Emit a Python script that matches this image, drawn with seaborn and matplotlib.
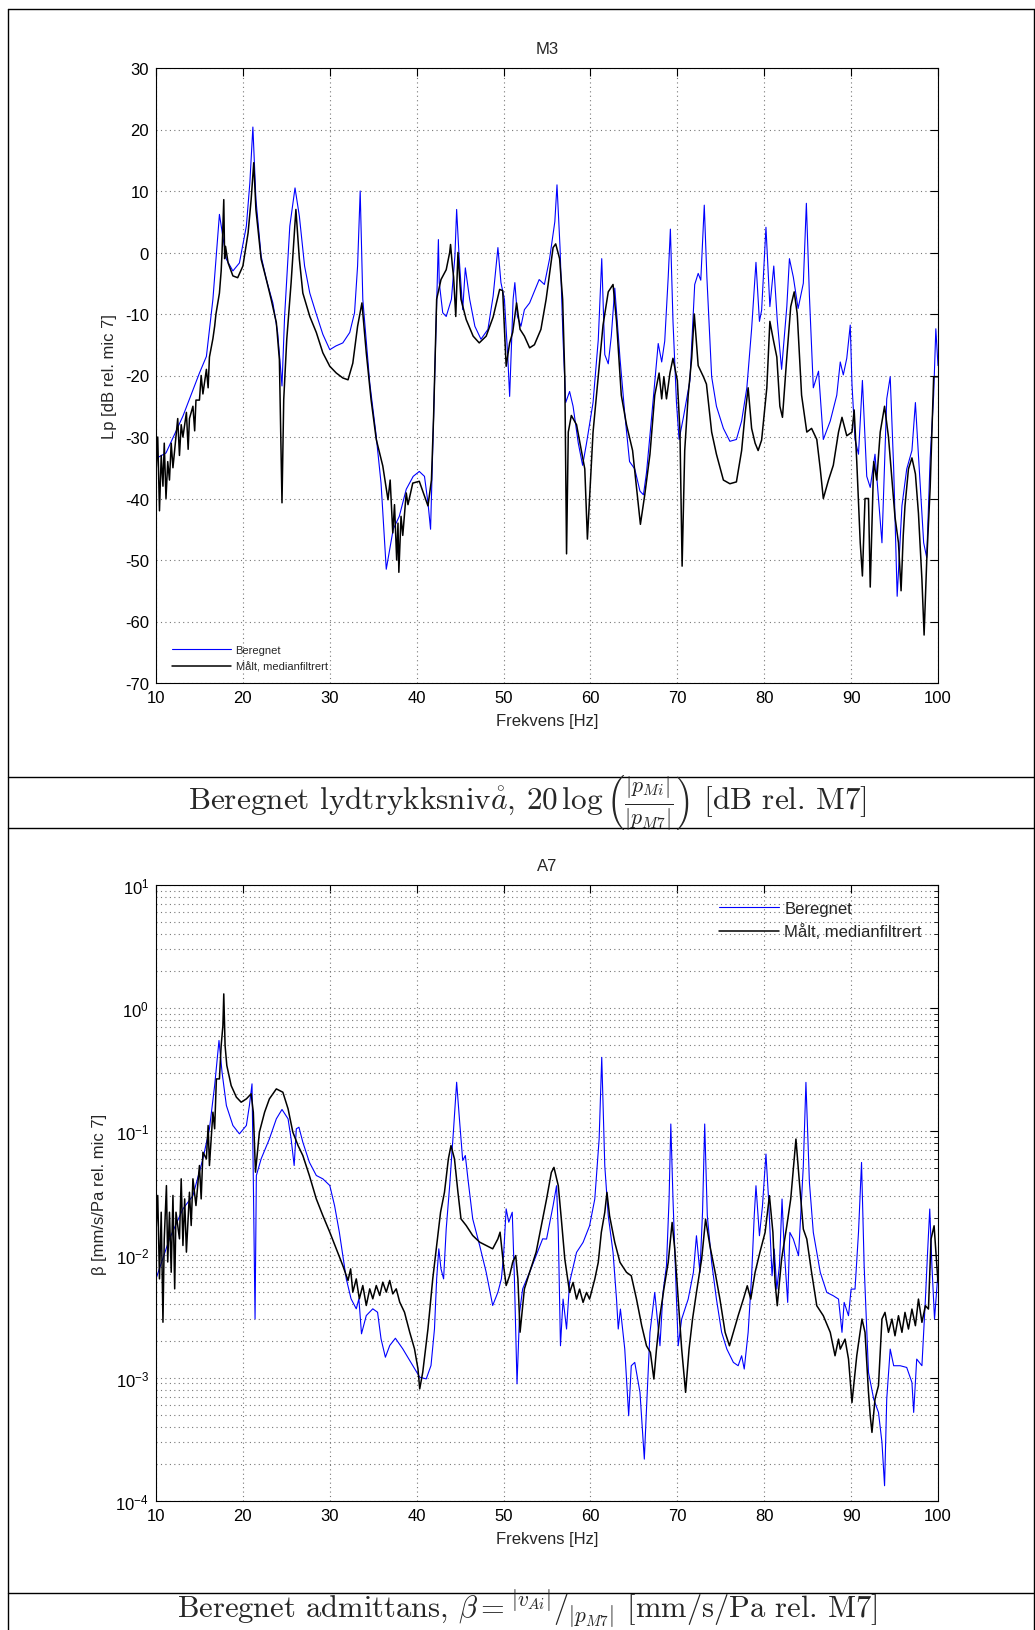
# ===============================================
# M3 / A7 – beregnet vs målt (MATLAB-style figure)
# ===============================================

import numpy as np
import matplotlib
matplotlib.use("Agg")
import matplotlib.pyplot as plt
import seaborn as sns
from matplotlib.lines import Line2D

# ------------------ Data: M3, Lp [dB rel. mic 7] ------------------

m3_ber_f = [10.0, 11.15, 13.1, 15.0, 15.8, 16.55, 16.93, 17.3, 18.1, 18.85, 19.6, 20.4, 20.8, 21.15, 21.5,
            22.1, 22.7, 23.45, 24.0, 24.5, 24.8, 25.4, 26.0, 26.5, 27.1, 27.7, 28.4, 29.2, 30.0, 30.7,
            31.5, 32.3, 32.85, 33.2, 33.5, 33.8, 34.6, 35.3, 35.9, 36.5, 37.3, 38.0, 38.8, 39.6, 40.3,
            40.9, 41.3, 41.6, 41.9, 42.25, 42.5, 42.6, 43.0, 43.4, 44.0, 44.4, 44.6, 44.9, 45.3, 45.6,
            46.1, 46.7, 47.4, 48.2, 48.8, 49.35, 49.7, 50.1, 50.5, 50.7, 51.1, 51.3, 51.6, 52.0, 52.4,
            53.0, 54.1, 54.7, 55.3, 55.9, 56.15, 56.5, 56.85, 57.15, 57.6, 58.0, 58.6, 59.1, 59.55, 60.3,
            60.9, 61.3, 61.65, 62.05, 62.4, 62.8, 63.4, 63.95, 64.5, 65.1, 65.7, 66.1, 66.45, 67.0, 67.8,
            68.2, 68.55, 68.95, 69.2, 69.5, 69.9, 70.2, 70.7, 71.45, 72.0, 72.4, 72.7, 73.1, 73.4, 73.95,
            74.5, 75.3, 76.05, 76.8, 77.4, 78.0, 78.55, 79.05, 79.45, 79.7, 80.2, 80.65, 81.1, 81.5, 82.0,
            82.6, 82.9, 83.35, 83.9, 84.5, 84.85, 85.2, 85.65, 86.25, 86.8, 87.6, 88.35, 88.75, 89.1, 89.5,
            89.9, 90.1, 90.45, 90.85, 91.3, 91.8, 92.2, 92.75, 93.55, 94.1, 94.5, 94.9, 95.3, 95.85, 96.4,
            97.0, 97.4, 97.75, 98.35, 98.7, 99.1, 99.5, 99.75, 100.0]
m3_ber_db = [-33.5, -32.6, -26.6, -19.6, -16.9, -7.6, -0.6, 6.2, -1.1, -3.0, -1.7, 4.3, 11.3, 20.4, 8.6,
             -0.6, -4.4, -8.2, -13.0, -21.7, -10.4, 4.3, 10.5, 5.9, -2.2, -6.6, -9.8, -13.3, -15.8, -15.2,
             -14.7, -13.0, -9.8, -2.2, 10.0, -7.6, -21.2, -29.3, -37.5, -51.5, -45.0, -42.9, -38.5, -36.4, -35.6,
             -36.4, -40.7, -45.0, -29.3, -10.4, 2.1, -4.9, -9.8, -10.4, -7.6, -0.6, 7.0, -1.1, -9.3, -2.5,
             -7.6, -12.0, -14.1, -12.5, -7.1, 0.8, -4.9, -7.6, -17.4, -23.4, -7.6, -4.9, -10.4, -12.0, -9.3,
             -8.2, -4.4, -5.2, -1.0, 5.0, 11.0, 0.8, -14.2, -24.4, -22.6, -25.0, -31.0, -34.6, -31.0, -24.4,
             -14.2, -1.0, -16.6, -18.1, -13.6, -5.8, -17.2, -26.2, -34.0, -35.2, -38.8, -39.4, -35.8, -27.4, -14.8,
             -17.8, -14.4, -4.0, 3.8, -11.2, -24.4, -30.4, -26.8, -20.8, -5.2, -3.4, -4.5, 7.7, -4.0, -20.2,
             -25.0, -28.6, -30.7, -30.4, -27.4, -22.0, -12.4, -1.6, -11.2, -9.4, 4.1, -8.8, -2.2, -11.0, -19.0,
             -8.8, -1.0, -4.0, -9.1, -5.0, 8.0, -7.0, -22.0, -19.3, -30.4, -27.4, -23.2, -17.8, -19.9, -17.2,
             -11.8, -21.4, -30.4, -32.8, -20.8, -36.4, -38.2, -32.8, -47.2, -23.8, -20.2, -35.2, -55.9, -41.2, -35.2,
             -32.2, -24.4, -33.0, -47.2, -49.6, -33.4, -23.2, -12.4, -18.4]

m3_mal_f = [10.0, 10.2, 10.4, 10.6, 10.8, 10.95, 11.15, 11.35, 11.55, 11.75, 11.95, 12.3, 12.5, 12.7, 12.9,
            13.1, 13.5, 13.7, 13.85, 14.25, 14.45, 14.6, 15.0, 15.2, 15.4, 15.8, 16.0, 16.15, 16.55, 16.75,
            16.9, 17.3, 17.5, 17.6, 17.8, 17.9, 18.0, 18.3, 18.85, 19.4, 20.0, 20.6, 20.95, 21.25, 21.5,
            22.1, 22.7, 23.25, 23.85, 24.2, 24.5, 24.7, 25.05, 25.55, 26.1, 26.5, 26.9, 27.7, 28.45, 29.2,
            30.0, 30.75, 31.5, 32.1, 32.65, 33.2, 33.7, 34.2, 34.75, 35.35, 36.1, 36.7, 36.95, 37.25, 37.45,
            37.7, 37.85, 37.95, 38.2, 38.4, 38.8, 39.0, 39.55, 40.3, 40.9, 41.3, 41.7, 41.95, 42.3, 42.8,
            43.4, 43.8, 43.9, 44.1, 44.25, 44.5, 44.75, 45.1, 45.7, 46.5, 47.2, 48.0, 48.8, 49.55, 49.9,
            50.3, 50.7, 51.05, 51.5, 51.9, 52.4, 53.0, 53.55, 54.3, 54.9, 55.7, 56.0, 56.45, 56.8, 57.05,
            57.25, 57.45, 57.8, 58.4, 58.95, 59.35, 59.65, 59.9, 60.3, 60.9, 61.45, 62.05, 62.6, 63.0, 63.55,
            64.15, 64.85, 65.3, 65.75, 66.25, 66.85, 67.4, 67.9, 68.2, 68.45, 68.75, 69.15, 69.5, 70.0, 70.3,
            70.55, 70.85, 71.25, 71.65, 71.95, 72.4, 73.0, 73.35, 73.95, 74.5, 75.3, 76.05, 76.8, 77.4, 77.8,
            78.15, 78.55, 78.95, 79.3, 79.7, 80.3, 80.65, 81.05, 81.45, 81.8, 82.1, 82.6, 83.05, 83.45, 83.8,
            84.3, 84.9, 85.45, 86.05, 86.45, 86.8, 87.4, 87.95, 88.55, 88.95, 89.5, 90.1, 90.35, 90.65, 91.05,
            91.3, 91.6, 92.0, 92.2, 92.6, 92.95, 93.35, 93.85, 94.3, 94.7, 95.05, 95.45, 95.75, 96.0, 96.2,
            96.6, 97.0, 97.4, 97.75, 98.15, 98.4, 98.7, 99.1, 99.5, 100.0]
m3_mal_db = [-36, -30, -42, -33, -38, -31, -40, -34, -37, -31, -35, -30, -27, -33, -28,
             -30, -26, -32, -27, -25, -29, -24, -24, -20, -23, -19, -22, -17, -14, -12,
             -10, -6.6, -3, 0, 8.6, -1, 1.0, -1.7, -3.8, -4.1, -2.2, 3.2, 8.6, 14.6, 7,
             -1.1, -4.4, -7.6, -11.4, -17.4, -40.7, -23.9, -14.1, -4.9, 7, -1.1, -6.6, -10.4, -13, -16.3,
             -18.5, -19.6, -20.4, -20.7, -18, -12, -8.2, -16.3, -23.9, -30.4, -34.7, -40.2, -37, -45.6, -41,
             -50, -44, -52, -42.9, -46, -39.1, -41, -37.5, -37.2, -39.6, -41.2, -37, -26.6, -7.6, -4.4,
             -2.8, 0, 1.3, -2, -4, -10.4, 0, -7.6, -10.9, -13.6, -14.7, -13.6, -10.5, -6, -6.2,
             -18.5, -14.7, -13, -8.2, -12.5, -13.6, -15.5, -15, -12.5, -7.6, 0.8, 1.4, -1, -7.6, -20.2,
             -49, -29.2, -26.5, -28, -32.2, -35.2, -46.6, -40, -29.2, -20.2, -11.8, -6.4, -5.2, -11.2, -23.2,
             -28, -32.2, -38.2, -44.2, -39.4, -32.8, -23.2, -19.6, -23.8, -20.2, -23.8, -19.6, -17.2, -20.8, -29,
             -51, -32.2, -23.2, -17.2, -10, -18.4, -20.2, -21.4, -29.2, -32.8, -37, -37.6, -37.3, -32.2, -26.2,
             -22, -28.6, -31, -32.2, -30.5, -22, -11.2, -14.2, -17, -25, -26.8, -17, -8.8, -6.4, -10,
             -23.2, -29.2, -28.6, -30.4, -35.2, -40, -37, -34.6, -29.2, -26.8, -29.8, -29.2, -25.6, -34, -47.2,
             -52.6, -40, -40, -54.4, -34, -37, -29.2, -25, -30, -37, -43, -47.2, -55, -46, -41.2,
             -35.2, -33.4, -36, -42.4, -53.2, -62.2, -50.2, -38.2, -20.2, -20.2]

# ------------------ Data: A7, log10(beta) [mm/s/Pa rel. mic 7] ------------------

a7_ber_f = [10.0, 11.55, 13.1, 14.25, 15.4, 16.15, 16.75, 17.25, 17.6, 18.1, 18.85, 19.6, 20.4, 20.75, 21.05,
            21.2, 21.4, 21.55, 22.1, 23.05, 23.85, 24.5, 25.2, 25.55, 25.9, 26.15, 26.45, 26.9, 27.65, 28.45,
            29.2, 30.0, 30.55, 31.1, 31.9, 32.45, 33.05, 33.35, 33.65, 34.2, 34.95, 35.5, 35.9, 36.4, 36.9,
            37.55, 38.4, 39.55, 40.35, 41.1, 41.65, 42.05, 42.3, 42.55, 42.8, 43.1, 43.4, 43.8, 44.25, 44.6,
            44.95, 45.3, 45.6, 45.9, 46.45, 47.25, 48.0, 48.75, 49.35, 49.75, 50.0, 50.3, 50.6, 51.0, 51.25,
            51.55, 51.85, 52.2, 53.0, 53.75, 54.5, 54.95, 55.7, 56.1, 56.3, 56.55, 56.85, 57.25, 57.6, 58.4,
            59.15, 59.9, 60.5, 61.0, 61.3, 61.65, 62.05, 62.6, 63.0, 63.2, 63.45, 63.95, 64.4, 64.7, 65.1,
            65.7, 66.2, 66.45, 66.85, 67.4, 68.0, 68.35, 68.75, 69.05, 69.25, 69.5, 69.9, 70.1, 70.5, 71.25,
            71.85, 72.2, 72.6, 72.9, 73.15, 73.45, 73.95, 74.5, 75.1, 75.7, 76.45, 77.0, 77.4, 77.7, 78.15,
            78.55, 78.85, 79.05, 79.45, 79.8, 80.2, 80.5, 80.9, 81.15, 81.45, 81.75, 82.05, 82.3, 82.7, 82.95,
            83.35, 83.95, 84.5, 84.8, 85.2, 85.65, 86.45, 87.2, 87.95, 88.55, 88.95, 89.2, 89.7, 90.0, 90.45,
            90.85, 91.2, 91.5, 92.0, 92.6, 93.15, 93.55, 93.85, 94.1, 94.5, 94.9, 95.65, 96.4, 97.0, 97.2,
            97.55, 98.15, 98.55, 98.8, 99.05, 99.3, 99.6, 100.0]
a7_ber_log = [-2.197, -1.872, -1.629, -1.521, -1.223, -0.979, -0.628, -0.262, -0.519, -0.79, -0.952, -1.02, -0.952, -0.79, -0.614,
              -1.385, -2.522, -1.358, -1.223, -1.061, -0.898, -0.822, -0.898, -1.061, -1.277, -0.979, -0.966, -1.088, -1.25, -1.358,
              -1.385, -1.439, -1.602, -1.818, -2.197, -2.359, -2.44, -2.359, -2.643, -2.495, -2.44, -2.468, -2.684, -2.833, -2.738,
              -2.679, -2.765, -2.9, -2.995, -3.009, -2.9, -2.603, -2.197, -1.953, -2.116, -2.197, -1.791, -1.439, -0.979, -0.601,
              -0.925, -1.236, -1.196, -1.385, -1.71, -1.926, -2.143, -2.413, -2.305, -2.197, -2.008, -1.629, -1.737, -1.656, -2.197,
              -3.049, -2.468, -2.278, -2.143, -2.008, -1.872, -1.874, -1.603, -1.441, -1.82, -2.74, -2.361, -2.604, -2.226, -1.982,
              -1.901, -1.766, -1.549, -1.062, -0.399, -1.279, -1.685, -1.982, -2.361, -2.604, -2.442, -2.767, -3.308, -2.902, -2.875,
              -3.118, -3.66, -3.254, -2.631, -2.307, -2.74, -2.307, -2.09, -1.549, -0.94, -1.549, -2.361, -2.74, -2.523, -2.361,
              -2.144, -1.847, -2.144, -1.657, -0.94, -1.685, -2.063, -2.361, -2.631, -2.767, -2.875, -2.902, -2.821, -2.929, -2.631,
              -2.172, -1.685, -1.441, -1.847, -1.603, -1.184, -1.549, -2.172, -1.955, -2.28, -2.09, -1.549, -1.955, -2.388, -1.82,
              -1.874, -2.009, -1.279, -0.602, -1.414, -1.82, -2.144, -2.307, -2.334, -2.361, -2.631, -2.388, -2.496, -2.28, -2.28,
              -1.82, -1.252, -2.09, -2.956, -3.173, -3.281, -3.524, -3.876, -3.173, -2.767, -2.902, -2.902, -2.916, -3.038, -3.281,
              -2.848, -2.902, -2.361, -1.982, -1.63, -2.09, -2.523, -2.144]

a7_mal_f = [10.0, 10.2, 10.4, 10.6, 10.8, 10.95, 11.2, 11.35, 11.55, 11.75, 11.95, 12.15, 12.3, 12.7, 12.9,
            13.1, 13.3, 13.5, 13.85, 14.05, 14.25, 14.6, 15.0, 15.2, 15.4, 15.8, 16.0, 16.15, 16.55, 16.75,
            16.95, 17.3, 17.5, 17.7, 17.8, 17.95, 18.15, 18.65, 19.25, 19.8, 20.4, 20.95, 21.2, 21.45, 21.9,
            22.5, 23.05, 23.85, 24.6, 25.2, 25.75, 26.35, 26.9, 27.65, 28.45, 29.2, 30.0, 30.75, 31.5, 32.1,
            32.4, 32.65, 33.05, 33.4, 33.8, 34.2, 34.6, 34.95, 35.35, 35.75, 36.1, 36.5, 36.9, 37.25, 37.65,
            38.05, 38.6, 39.2, 39.75, 40.15, 40.35, 40.7, 41.3, 41.85, 42.3, 42.75, 43.2, 43.65, 43.95, 44.35,
            44.75, 45.1, 45.7, 46.45, 47.25, 48.0, 48.75, 49.35, 49.6, 50.0, 50.3, 50.7, 51.05, 51.4, 51.65,
            51.9, 52.4, 53.0, 53.75, 54.5, 54.95, 55.5, 55.8, 56.3, 56.65, 57.05, 57.6, 58.0, 58.4, 58.75,
            59.15, 59.55, 59.9, 60.5, 60.9, 61.25, 61.65, 61.9, 62.2, 62.8, 63.4, 64.15, 64.7, 65.3, 65.9,
            66.45, 66.9, 67.3, 67.6, 68.0, 68.45, 68.95, 69.4, 69.7, 70.1, 70.5, 70.95, 71.35, 71.75, 72.2,
            72.8, 73.25, 73.75, 74.35, 74.9, 75.5, 76.0, 76.45, 77.0, 77.6, 78.05, 78.45, 78.95, 79.5, 80.1,
            80.6, 81.0, 81.25, 81.5, 82.0, 82.6, 83.05, 83.45, 83.65, 84.05, 84.5, 84.9, 85.45, 86.05, 86.8,
            87.6, 88.15, 88.55, 88.75, 89.3, 89.7, 90.1, 90.65, 91.25, 91.6, 92.0, 92.2, 92.4, 92.75, 93.15,
            93.55, 93.9, 94.3, 94.7, 95.05, 95.45, 95.85, 96.2, 96.6, 97.0, 97.4, 97.75, 98.15, 98.55, 98.9,
            99.2, 99.55, 100.0]
a7_mal_log = [-1.818, -1.52, -2.197, -1.656, -2.549, -1.872, -1.44, -2.06, -1.656, -2.143, -1.52, -2.278, -1.656, -1.872, -1.385,
              -1.926, -1.548, -1.98, -1.494, -1.764, -1.385, -1.602, -1.277, -1.548, -1.169, -1.223, -0.952, -1.277, -0.844, -0.979,
              -0.574, -0.574, -0.303, -0.141, 0.116, -0.303, -0.465, -0.628, -0.722, -0.763, -0.736, -0.695, -0.844, -1.331, -1.006,
              -0.844, -0.736, -0.655, -0.682, -0.817, -1.006, -1.115, -1.196, -1.358, -1.548, -1.683, -1.818, -1.953, -2.089, -2.21,
              -2.116, -2.305, -2.197, -2.359, -2.251, -2.413, -2.278, -2.359, -2.251, -2.332, -2.224, -2.305, -2.21, -2.319, -2.278,
              -2.386, -2.468, -2.63, -2.765, -2.927, -3.09, -2.955, -2.603, -2.197, -1.926, -1.656, -1.494, -1.223, -1.115, -1.223,
              -1.494, -1.71, -1.764, -1.845, -1.899, -1.926, -1.953, -1.872, -1.818, -2.089, -2.251, -2.17, -2.062, -2.008, -2.197,
              -2.63, -2.278, -2.143, -1.98, -1.71, -1.549, -1.333, -1.292, -1.441, -1.712, -2.036, -2.307, -2.226, -2.361, -2.28,
              -2.388, -2.307, -2.361, -2.199, -2.063, -1.82, -1.657, -1.495, -1.685, -1.901, -2.063, -2.144, -2.172, -2.361, -2.577,
              -2.74, -2.794, -3.01, -2.767, -2.496, -2.28, -2.063, -1.739, -1.955, -2.361, -2.767, -3.118, -2.767, -2.523, -2.307,
              -2.036, -1.712, -1.928, -2.144, -2.361, -2.631, -2.74, -2.631, -2.496, -2.361, -2.253, -2.361, -2.144, -1.982, -1.82,
              -1.522, -1.82, -2.226, -2.415, -2.036, -1.766, -1.549, -1.225, -1.062, -1.414, -1.793, -1.874, -2.144, -2.415, -2.496,
              -2.631, -2.821, -2.686, -2.767, -2.686, -2.848, -3.2, -2.821, -2.523, -2.631, -3.118, -3.308, -3.443, -3.173, -3.064,
              -2.523, -2.469, -2.631, -2.523, -2.659, -2.496, -2.631, -2.469, -2.604, -2.442, -2.577, -2.361, -2.55, -2.415, -2.442,
              -1.874, -1.766, -2.226]

x_ticks = [10, 20, 30, 40, 50, 60, 70, 80, 90, 100]
lp_ticks = [30, 20, 10, 0, -10, -20, -30, -40, -50, -60, -70]

# ------------------ Style ------------------

sns.set_theme(style="white")
plt.rcParams["font.family"] = ["Liberation Sans", "DejaVu Sans"]
plt.rcParams["axes.unicode_minus"] = False
plt.rcParams["mathtext.fontset"] = "cm"

W, H = 1035, 1631
fig = plt.figure(figsize=(W / 100, H / 100), dpi=100)
fig.patch.set_facecolor("white")

BLUE = "#0000ff"
BLACK = "#000000"


def style_axes(ax):
    ax.set_facecolor("white")
    for s in ax.spines.values():
        s.set_color("black")
        s.set_linewidth(0.8)
    ax.tick_params(which="both", direction="in", top=True, right=True,
                   labelsize=12, colors="black", pad=5)
    ax.tick_params(which="major", length=6, width=0.8)
    ax.tick_params(which="minor", length=3, width=0.6)
    ax.grid(True, which="major", linestyle=(0, (1, 3)), color="#777777", linewidth=0.8)
    ax.set_axisbelow(True)


# ----------------- Top: M3 -----------------

ax1 = fig.add_axes([156 / W, 1 - 684 / H, 782 / W, 615 / H])
sns.lineplot(x=m3_ber_f, y=m3_ber_db, ax=ax1, color=BLUE, linewidth=0.8,
             sort=False, estimator=None, label="Beregnet")
sns.lineplot(x=m3_mal_f, y=m3_mal_db, ax=ax1, color=BLACK, linewidth=1.1,
             sort=False, estimator=None, label="Målt, medianfiltrert")
style_axes(ax1)
ax1.set_xlim(10, 100)
ax1.set_ylim(-70, 30)
ax1.set_xticks(x_ticks)
ax1.set_yticks(lp_ticks)
ax1.set_title("M3", fontsize=12, pad=11)
ax1.set_xlabel("Frekvens [Hz]", fontsize=12, labelpad=6)
ax1.set_ylabel("Lp [dB rel. mic 7]", fontsize=12, labelpad=6)
ax1.legend(loc="lower left", bbox_to_anchor=(0.015, 0.011), frameon=False, fontsize=8,
           handlelength=5.3, handletextpad=0.4, labelspacing=0.55, borderaxespad=0)

# ----------------- Bottom: A7 -----------------

ax2 = fig.add_axes([156 / W, 1 - 1502 / H, 782 / W, 616 / H])
sns.lineplot(x=a7_ber_f, y=10 ** np.array(a7_ber_log), ax=ax2, color=BLUE, linewidth=0.8,
             sort=False, estimator=None, label="Beregnet")
sns.lineplot(x=a7_mal_f, y=10 ** np.array(a7_mal_log), ax=ax2, color=BLACK, linewidth=1.1,
             sort=False, estimator=None, label="Målt, medianfiltrert")
ax2.set_yscale("log")
style_axes(ax2)
ax2.grid(True, which="minor", linestyle=(0, (1, 3)), color="#777777", linewidth=0.8)
ax2.set_xlim(10, 100)
ax2.set_ylim(1e-4, 1e1)
ax2.set_xticks(x_ticks)
ax2.set_title("A7", fontsize=12, pad=11)
ax2.set_xlabel("Frekvens [Hz]", fontsize=12, labelpad=6)
ax2.set_ylabel("β [mm/s/Pa rel. mic 7]", fontsize=12, labelpad=6)
ax2.legend(loc="upper right", bbox_to_anchor=(0.988, 0.985), frameon=False, fontsize=12,
           handlelength=3.6, handletextpad=0.3, labelspacing=0.45, borderaxespad=0)

# ----------------- Table frame and captions -----------------

def hline(y, x0=8, x1=1034):
    fig.add_artist(Line2D([x0 / W, x1 / W], [1 - y / H, 1 - y / H], color="black", lw=1.0))


def vline(x, y0=10, y1=1631):
    fig.add_artist(Line2D([x / W, x / W], [1 - y0 / H, 1 - y1 / H], color="black", lw=1.0))


hline(10)
hline(778)
hline(829)
hline(1594)
vline(8)
vline(1034)

fig.text(527 / W, 1 - 803 / H,
         r"Beregnet lydtrykksniv$\mathring{a}$, $20\,\log\left(\frac{|p_{Mi}|}{|p_{M7}|}\right)$ [dB rel. M7]",
         ha="center", va="center", fontsize=22.5, family="cmr10")
fig.text(527 / W, 1 - 1609 / H,
         r"Beregnet admittans, $\beta = {}^{|v_{Ai}|}/_{|p_{M7}|}$ [mm/s/Pa rel. M7]",
         ha="center", va="center", fontsize=22, family="cmr10")

plt.savefig("out.png", dpi=100, facecolor="white")
